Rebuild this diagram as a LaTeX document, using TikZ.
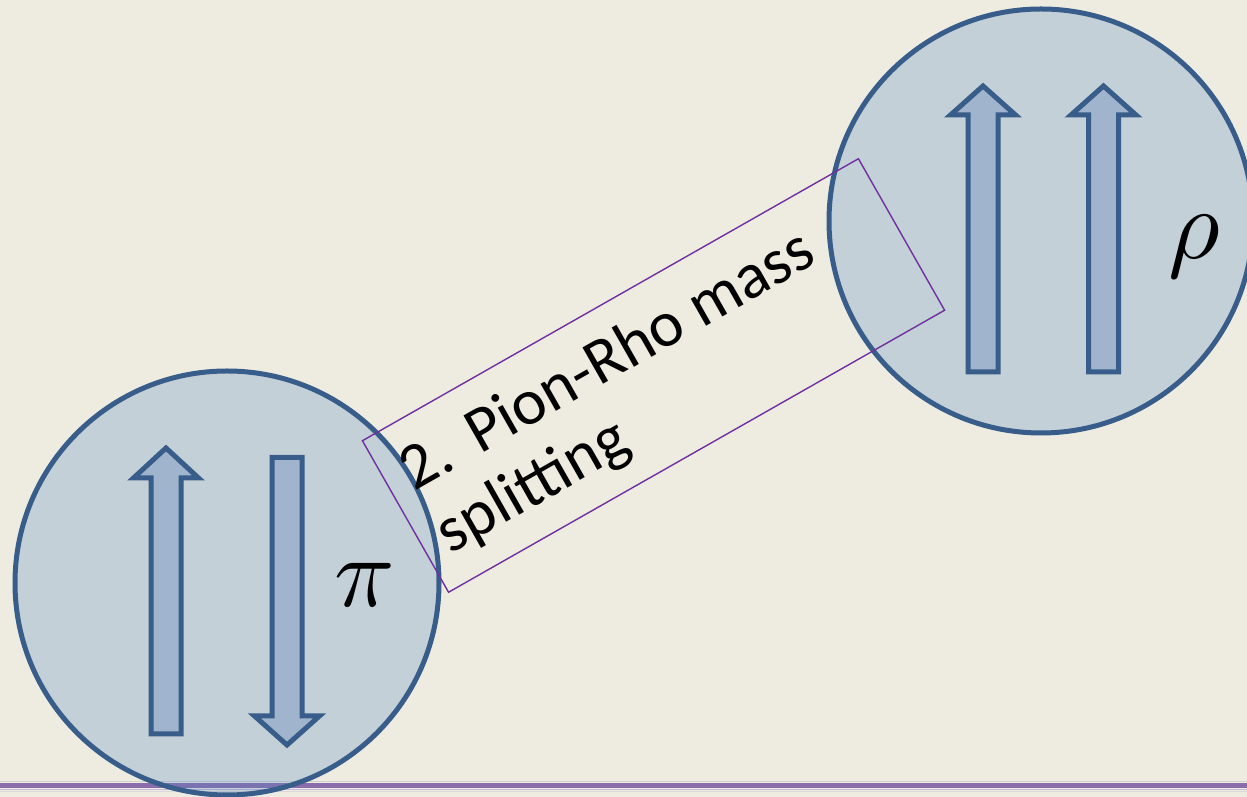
\documentclass[tikz,border=0pt]{standalone}
\usepackage{fontspec}
\usepackage{unicode-math}
\setmathfont{Latin Modern Math}
\newfontfamily\calibrilike{Carlito}
\usetikzlibrary{calc}
\definecolor{bg}{HTML}{EEECE1}
\definecolor{accent}{HTML}{4F81BD}
\definecolor{edge}{HTML}{385D8A}
\definecolor{arrowfill}{HTML}{A0B5CD}
\definecolor{band}{HTML}{8B6DAD}
\definecolor{bandlight}{HTML}{C8B8DA}
\definecolor{boxpurple}{HTML}{7030A0}
\tikzset{
  meson/.style={circle, draw=edge, line width=5pt, fill=accent, fill opacity=0.26, draw opacity=1, minimum size=424pt, inner sep=0pt},
  spinshape/.style={draw=edge, fill=arrowfill, line width=5pt, line join=miter},
  lbl/.style={font=\calibrilike\fontsize{65}{72}\selectfont, inner sep=0pt, rotate=29.62, align=left, anchor=base west},
  sym/.style={font=\fontsize{100}{100}\selectfont, inner sep=0pt}
}
\newcommand\spinarrow[4]{%
  \draw[spinshape] (#1-15,#2) -- (#1+15,#2) -- (#1+15,#3) -- (#1+32.5,#3) -- (#1,#4) -- (#1-32.5,#3) -- (#1-15,#3) -- cycle;}
\begin{document}
\begin{tikzpicture}[x=1pt,y=1pt]
\useasboundingbox (0,0) rectangle (1247,797);
\clip (0,0) rectangle (1247,797);
\fill[bg] (0,0) rectangle (1247,797);
% bottom rule
\draw[black!18, line width=0.8pt] (0,16) -- (1247,16);
\draw[band, line width=5.5pt] (0,11.5) -- (1247,11.5);
\draw[bandlight, line width=1.5pt] (0,7.5) -- (1247,7.5);
\draw[black!15, line width=0.8pt] (0,6) -- (1247,6);
% mesons
\node[meson] (pion) at (227,214) {};
\node[meson] (rho) at (1041,576) {};
% spins
\spinarrow{166}{63}{319}{349}
\spinarrow{287}{339.5}{81}{52}
\spinarrow{983}{425}{682}{711}
\spinarrow{1103.5}{425}{682}{711}
% labels
\node[sym] (pisym) at (364,211) {$\pi$};
\node[sym] (rhosym) at (1195,550) {$\rho$};
% text box
\node[draw=boxpurple, line width=1.4pt, rotate=29.62, minimum width=570.6pt, minimum height=174.3pt, inner sep=0pt] (box) at (653.5,421.5) {};
\node[lbl] (caption) at ($(box.north west)+(29.62:21)+(-60.38:143)$) {2.\hspace{26pt}Pion-Rho mass\\splitting};
\end{tikzpicture}
\end{document}
